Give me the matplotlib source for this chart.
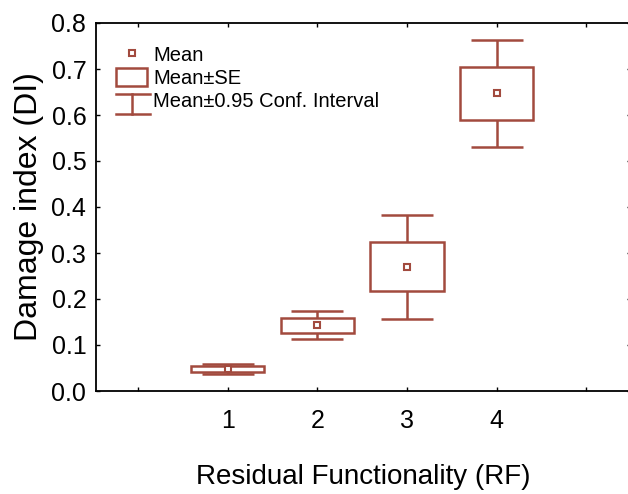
import matplotlib
matplotlib.use("Agg")
import matplotlib.pyplot as plt
from matplotlib.patches import Rectangle
from matplotlib.lines import Line2D
from matplotlib.legend_handler import HandlerBase

# data
groups = [1, 2, 3, 4]
means = [0.047, 0.143, 0.270, 0.647]
se = [0.0065, 0.016, 0.053, 0.057]
ci95 = [0.011, 0.031, 0.113, 0.117]
xtick_pos = [0, 1, 2, 3, 4, 5]
xtick_labels = ["", "1", "2", "3", "4", ""]
ytick_pos = [0.0, 0.1, 0.2, 0.3, 0.4, 0.5, 0.6, 0.7, 0.8]

COLOR = "#a24a3e"
LW = 1.8
BOX_W = 0.82

plt.rcParams["font.family"] = ["Liberation Sans", "DejaVu Sans"]


class CIHandler(HandlerBase):
    """Draws an I-beam (whisker) legend key."""

    def create_artists(self, legend, orig_handle, xdescent, ydescent,
                       width, height, fontsize, trans):
        cx = width / 2 - xdescent
        top = height * 0.8 - ydescent
        bot = -height * 0.3 - ydescent
        left = -xdescent
        right = width * 1.08 - xdescent
        lines = [
            Line2D([cx, cx], [bot, top]),
            Line2D([left, right], [top, top]),
            Line2D([left, right], [bot, bot]),
        ]
        for ln in lines:
            ln.set_color(COLOR)
            ln.set_linewidth(LW)
            ln.set_transform(trans)
        return lines


fig = plt.figure(figsize=(6.28, 4.94), dpi=100)
ax = fig.add_axes([96 / 628, 103 / 494, 535 / 628, 368 / 494])

# 95% CI whiskers
ax.errorbar(groups, means, yerr=ci95, fmt="none", ecolor=COLOR,
            elinewidth=LW, capsize=19, capthick=LW, zorder=2)

# SE boxes
for g, m, s in zip(groups, means, se):
    ax.add_patch(Rectangle((g - BOX_W / 2, m - s), BOX_W, 2 * s,
                           facecolor="white", edgecolor=COLOR,
                           linewidth=LW, zorder=3))

# means
ax.plot(groups, means, linestyle="none", marker="s", markersize=4.5,
        markerfacecolor="white", markeredgecolor=COLOR,
        markeredgewidth=1.5, zorder=4)

ax.set_xlim(-0.47, 5.5)
ax.set_ylim(0, 0.8)
ax.set_xticks(xtick_pos)
ax.set_xticklabels(xtick_labels)
ax.set_yticks(ytick_pos)
ax.set_yticklabels([f"{v:.1f}" for v in ytick_pos])
ax.tick_params(direction="in", length=3, width=1, labelsize=18, pad=7,
               top=True, right=True)
ax.tick_params(axis="x", pad=13)
for sp in ax.spines.values():
    sp.set_linewidth(1.3)

ax.set_xlabel("Residual Functionality (RF)", fontsize=20, labelpad=22)
ax.set_ylabel("Damage index (DI)", fontsize=23, labelpad=5)

h_mean = Line2D([], [], linestyle="none", marker="s", markersize=4.5,
                markerfacecolor="white", markeredgecolor=COLOR,
                markeredgewidth=1.5)
h_se = Rectangle((0, 0), 1, 1, facecolor="white", edgecolor=COLOR,
                 linewidth=LW)
h_ci = object()
ax.legend([h_mean, h_se, h_ci],
          ["Mean", "Mean±SE", "Mean±0.95 Conf. Interval"],
          handler_map={object: CIHandler()},
          loc="upper left", bbox_to_anchor=(0.0, 0.995), frameon=False,
          fontsize=14.5, handlelength=1.55, handleheight=1.0,
          handletextpad=0.3, labelspacing=0.15, borderaxespad=0.6)

fig.savefig("out.png", dpi=100)
